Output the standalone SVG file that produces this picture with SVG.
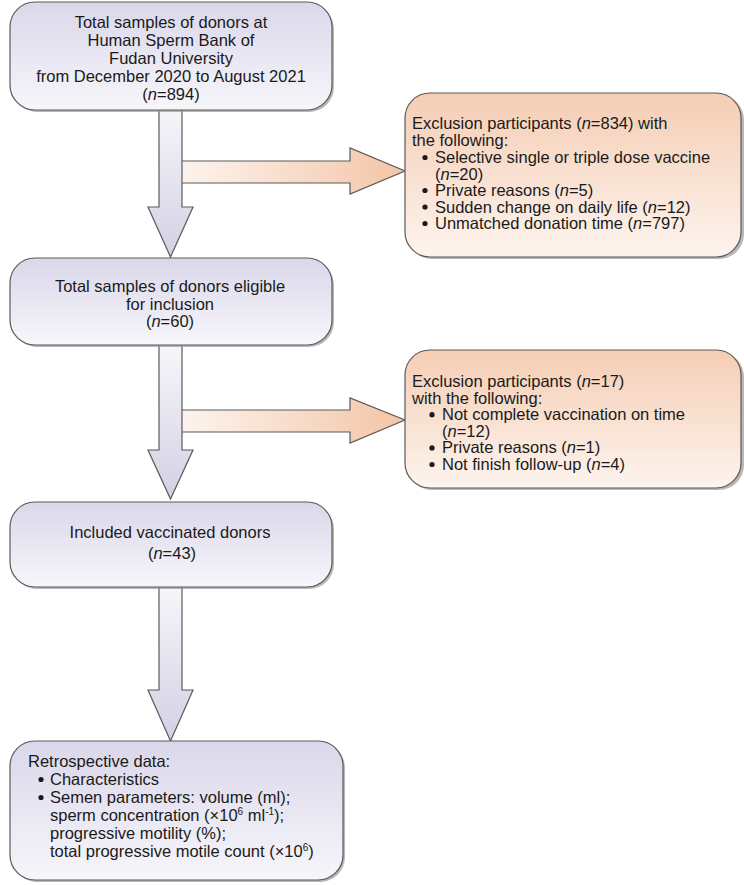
<svg xmlns="http://www.w3.org/2000/svg" width="744" height="885" viewBox="0 0 744 885">
<defs>
<linearGradient id="gBox" x1="0" y1="0" x2="0" y2="1"><stop offset="0" stop-color="#dad7ea"/><stop offset="1" stop-color="#f7f6fa"/></linearGradient>
<linearGradient id="gPeach" x1="0" y1="0" x2="0" y2="1"><stop offset="0" stop-color="#f5cdb4"/><stop offset="1" stop-color="#fdf4ee"/></linearGradient>
<linearGradient id="gDown" x1="0" y1="0" x2="0" y2="1"><stop offset="0" stop-color="#f8f8fb"/><stop offset="1" stop-color="#d3d0e4"/></linearGradient>
<linearGradient id="gRight" x1="0" y1="0" x2="1" y2="0"><stop offset="0" stop-color="#fdf6f1"/><stop offset="1" stop-color="#f3c5a7"/></linearGradient>
</defs>
<style>
.box{stroke:#5a5a5a;stroke-width:1.2}
.sh{fill:#9a9a9a;opacity:0.7}
.down{fill:url(#gDown);stroke:#5a5a5a;stroke-width:1.2;stroke-linejoin:miter}
.right{fill:url(#gRight);stroke:#5a5a5a;stroke-width:1.2}
text{font-family:"Liberation Sans",Arial,sans-serif;font-size:16.5px;fill:#1a1a1a}
.c{text-anchor:middle}
.i{font-style:italic}
.sup{font-size:10px}
</style>
<rect width="744" height="885" fill="#ffffff"/>
<g id="connectors">
<polygon class="right" points="170,161 350,161 350,148 405,171 350,194 350,183 170,183"/>
<polygon class="down" points="159,100 182,100 182,207 193,207 170.5,257 148,207 159,207"/>
<polygon class="right" points="170,410 350,410 350,398 405,420 350,443 350,432 170,432"/>
<polygon class="down" points="159,340 182,340 182,450 193,450 170.5,499 148,450 159,450"/>
<polygon class="down" points="159,580 182,580 182,690 193,690 170.5,741 148,690 159,690"/>
</g>
<g id="node-total">
<rect class="sh" x="12" y="4" width="322" height="108" rx="25"/>
<rect class="box" x="10" y="2" width="322" height="108" rx="25" fill="url(#gBox)"/>
<text class="c" x="171" y="28">Total samples of donors at</text>
<text class="c" x="171" y="46">Human Sperm Bank of</text>
<text class="c" x="171" y="64">Fudan University</text>
<text class="c" x="171" y="82">from December 2020 to August 2021</text>
<text class="c" x="171" y="100">(<tspan class="i">n</tspan>=894)</text>
</g>
<g id="node-excl1">
<rect class="sh" x="407" y="95" width="337" height="164" rx="25"/>
<rect class="box" x="405" y="93" width="336" height="164" rx="25" fill="url(#gPeach)"/>
<text x="412" y="129">Exclusion participants (<tspan class="i">n</tspan>=834) with</text>
<text x="412" y="146">the following:</text>
<circle cx="425" cy="157.5" r="2.6" fill="#1a1a1a"/>
<text x="435" y="163">Selective single or triple dose vaccine</text>
<text x="435" y="179.5">(<tspan class="i">n</tspan>=20)</text>
<circle cx="425" cy="190.5" r="2.6" fill="#1a1a1a"/>
<text x="435" y="196">Private reasons (<tspan class="i">n</tspan>=5)</text>
<circle cx="425" cy="207" r="2.6" fill="#1a1a1a"/>
<text x="435" y="212.5">Sudden change on daily life (<tspan class="i">n</tspan>=12)</text>
<circle cx="425" cy="223.5" r="2.6" fill="#1a1a1a"/>
<text x="435" y="229">Unmatched donation time (<tspan class="i">n</tspan>=797)</text>
</g>
<g id="node-eligible">
<rect class="sh" x="12" y="260" width="322" height="87" rx="25"/>
<rect class="box" x="10" y="258" width="322" height="87" rx="25" fill="url(#gBox)"/>
<text class="c" x="170" y="292">Total samples of donors eligible</text>
<text class="c" x="170" y="309.5">for inclusion</text>
<text class="c" x="170" y="327">(<tspan class="i">n</tspan>=60)</text>
</g>
<g id="node-excl2">
<rect class="sh" x="407" y="352" width="337" height="138" rx="25"/>
<rect class="box" x="405" y="350" width="336" height="138" rx="25" fill="url(#gPeach)"/>
<text x="412" y="387">Exclusion participants (<tspan class="i">n</tspan>=17)</text>
<text x="412" y="403.6">with the following:</text>
<circle cx="432" cy="414.7" r="2.6" fill="#1a1a1a"/>
<text x="442" y="420.2">Not complete vaccination on time</text>
<text x="442" y="436.8">(<tspan class="i">n</tspan>=12)</text>
<circle cx="432" cy="447.9" r="2.6" fill="#1a1a1a"/>
<text x="442" y="453.4">Private reasons (<tspan class="i">n</tspan>=1)</text>
<circle cx="432" cy="464.5" r="2.6" fill="#1a1a1a"/>
<text x="442" y="470">Not finish follow-up (<tspan class="i">n</tspan>=4)</text>
</g>
<g id="node-included">
<rect class="sh" x="12" y="504" width="322" height="85" rx="25"/>
<rect class="box" x="10" y="502" width="322" height="85" rx="25" fill="url(#gBox)"/>
<text class="c" x="170" y="538">Included vaccinated donors</text>
<text class="c" x="172" y="559">(<tspan class="i">n</tspan>=43)</text>
</g>
<g id="node-retro">
<rect class="sh" x="12" y="743" width="333" height="139" rx="25"/>
<rect class="box" x="10" y="741" width="333" height="139" rx="25" fill="url(#gBox)"/>
<text x="28" y="767">Retrospective data:</text>
<circle cx="41" cy="779.5" r="2.6" fill="#1a1a1a"/>
<text x="50" y="785">Characteristics</text>
<circle cx="41" cy="797.5" r="2.6" fill="#1a1a1a"/>
<text x="50" y="803">Semen parameters: volume (ml);</text>
<text x="50" y="821">sperm concentration (×10<tspan class="sup" dy="-6">6</tspan><tspan dy="6"> ml</tspan><tspan class="sup" dy="-6">-1</tspan><tspan dy="6">);</tspan></text>
<text x="50" y="839">progressive motility (%);</text>
<text x="50" y="857">total progressive motile count (×10<tspan class="sup" dy="-6">6</tspan><tspan dy="6">)</tspan></text>
</g>
</svg>
